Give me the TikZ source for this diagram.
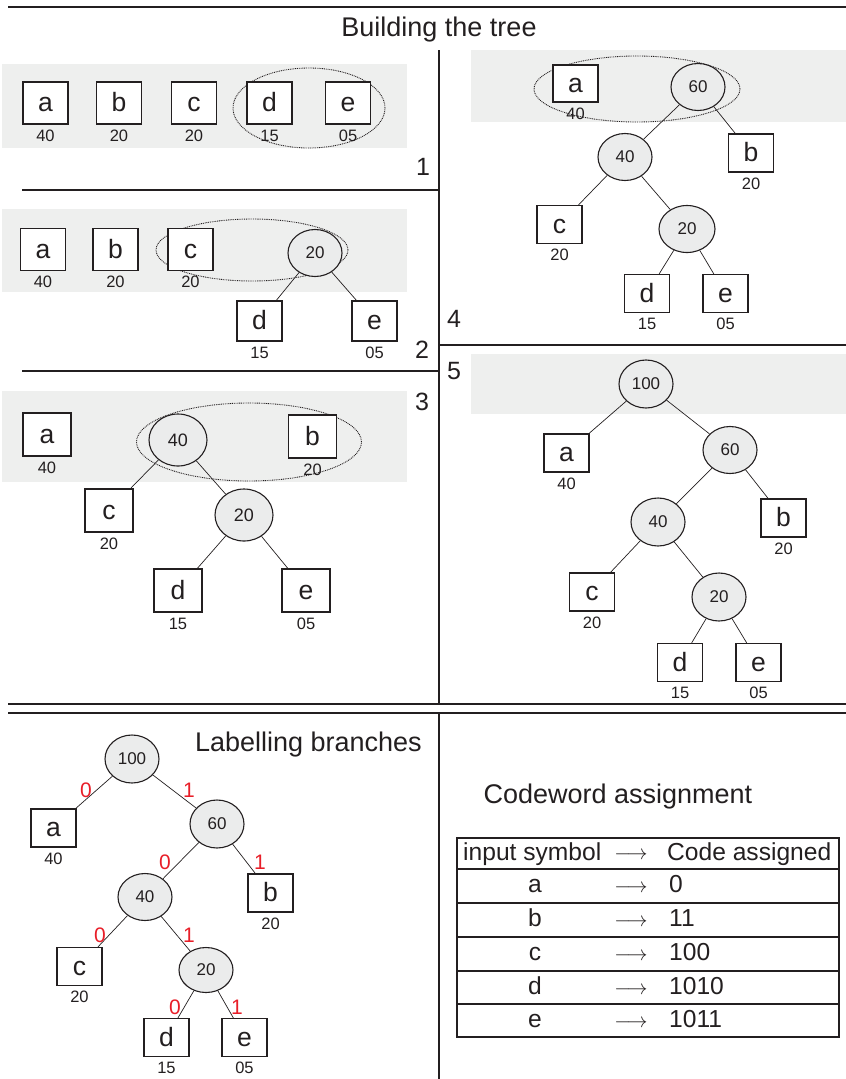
\documentclass[tikz,border=0pt]{standalone}
\usepackage{fontspec}
\setmainfont{Liberation Sans}
\usetikzlibrary{shapes.geometric}
\definecolor{bggray}{RGB}{238,239,238}
\definecolor{ngray}{RGB}{235,236,236}
\definecolor{lred}{RGB}{232,30,40}
\definecolor{ink}{RGB}{35,31,32}
\newcommand\fs[1]{\fontsize{#1}{#1}\selectfont}
\newcommand\lf[6]{%
  \node[#6] (#1) at (#2,#3) {#4};
  \node[wt] (#1w) at ([yshift=-11pt]#1.south) {#5};}
\begin{document}
\begin{tikzpicture}[x=1pt,y=-1pt,
  every node/.style={text=ink},
  frame/.style={draw=ink,line width=1.4pt},
  leaf/.style={draw=ink,line width=1.2pt,fill=white,minimum width=45pt,minimum height=42pt,inner sep=0pt,font=\fs{26.5},text height=17pt,text depth=0pt},
  sleaf/.style={leaf,minimum height=38pt},
  inode/.style={ellipse,draw=ink,line width=1.1pt,fill=ngray,minimum width=54pt,minimum height=47pt,inner sep=0pt,font=\fs{17}},
  binode/.style={inode,minimum width=58pt,minimum height=52pt,font=\fs{18}},
  wt/.style={inner sep=0pt,font=\fs{16.5}},
  grp/.style={ellipse,draw=ink,line width=0.9pt,dash pattern=on 0.9pt off 0.9pt,inner sep=0pt},
  br/.style={draw=ink,line width=0.7pt},
  ttl/.style={inner sep=0pt,font=\fs{27}},
  pnum/.style={inner sep=0pt,font=\fs{25}},
  bit/.style={inner sep=0pt,text=lred,font=\fs{21}},
  tt/.style={inner sep=0pt,font=\fs{24.6},text height=17.5pt,text depth=4pt},
  arr/.style={inner sep=0pt,font=\fs{21.5}},
  tline/.style={draw=ink,line width=1.1pt}]
\useasboundingbox (0,0) rectangle (846,1079);
% backgrounds
\fill[bggray] (2,64) rectangle (407,148);
\fill[bggray] (2,209) rectangle (407,292);
\fill[bggray] (2,391) rectangle (407,482);
\fill[bggray] (471,50) rectangle (846,122);
\fill[bggray] (471,354) rectangle (846,414);
% frame lines
\draw[frame] (8,7) -- (846,7);
\draw[frame] (439,50) -- (439,704);
\draw[frame] (22,190) -- (439,190);
\draw[frame] (22,371) -- (439,371);
\draw[frame] (439,345) -- (846,345);
\draw[frame] (8,704) -- (846,704);
\draw[frame] (8,713) -- (846,713);
\draw[frame] (439,713) -- (439,1079);
% titles
\node[ttl] (t1) at (439,30) {Building the tree};
\node[pnum] (n1) at (423,167) {1};
\node[pnum] (n2) at (422,350) {2};
\node[pnum] (n3) at (422,402) {3};
\node[pnum] (n4) at (454,319) {4};
\node[pnum] (n5) at (454,371) {5};
% ---- panel 1
\node[grp,minimum width=152pt,minimum height=80pt] (g1) at (309,108) {};
\lf{pa}{45.5}{103}{a}{40}{leaf}
\lf{pb}{119}{103}{b}{20}{leaf}
\lf{pc}{194}{103}{c}{20}{leaf}
\lf{pd}{269.5}{103}{d}{15}{leaf}
\lf{pe}{348}{103}{e}{05}{leaf}
% ---- panel 2
\node[grp,minimum width=192pt,minimum height=62pt] (g2) at (252,250) {};
\lf{qa}{43}{249.5}{a}{40}{leaf}
\lf{qb}{115.5}{249.5}{b}{20}{leaf}
\lf{qc}{190.5}{249.5}{c}{20}{leaf}
\node[inode] (q20) at (315,253) {20};
\lf{qd}{259.5}{321}{d}{15}{leaf,minimum height=40pt}
\lf{qe}{374.5}{321}{e}{05}{leaf,minimum height=40pt}
\draw[br] (q20) -- (qd);
\draw[br] (q20) -- (qe);
% ---- panel 3
\node[grp,minimum width=225pt,minimum height=78pt] (g3) at (249,442) {};
\lf{ra}{47}{434.5}{a}{40}{leaf,minimum width=48pt,minimum height=43pt}
\node[binode] (r40) at (178,440) {40};
\lf{rb}{312.5}{436.5}{b}{20}{leaf,minimum width=48pt,minimum height=43pt}
\lf{rc}{109}{510.5}{c}{20}{leaf,minimum width=48pt,minimum height=43pt}
\node[binode] (r20) at (244,515) {20};
\lf{rd}{178}{590.5}{d}{15}{leaf,minimum width=48pt,minimum height=43pt}
\lf{re}{306}{590.5}{e}{05}{leaf,minimum width=48pt,minimum height=43pt}
\draw[br] (r40) -- (rc);
\draw[br] (r40) -- (r20);
\draw[br] (r20) -- (rd);
\draw[br] (r20) -- (re);
% ---- panel 4
\node[grp,minimum width=206pt,minimum height=66pt] (g4) at (637,89) {};
\lf{sa}{575.5}{83.5}{a}{40}{sleaf,minimum height=37pt}
\node[inode] (s60) at (698,87) {60};
\lf{sb}{751}{153}{b}{20}{sleaf}
\node[inode] (s40) at (625,157) {40};
\lf{sc}{559.5}{224.5}{c}{20}{sleaf}
\node[inode,minimum width=56pt] (s20) at (687,229) {20};
\lf{sd}{647}{293.5}{d}{15}{sleaf}
\lf{se}{725.5}{293.5}{e}{05}{sleaf}
\draw[br] (s60) -- (s40);
\draw[br] (s60) -- (sb);
\draw[br] (s40) -- (sc);
\draw[br] (s40) -- (s20);
\draw[br] (s20) -- (sd);
\draw[br] (s20) -- (se);
% ---- panel 5
\node[inode,minimum height=48pt] (u100) at (646,384) {100};
\lf{ua}{566.5}{453}{a}{40}{sleaf}
\node[inode] (u60) at (730,450) {60};
\lf{ub}{783.5}{518}{b}{20}{sleaf}
\node[inode,minimum height=48pt] (u40) at (658,522) {40};
\lf{uc}{592}{592}{c}{20}{sleaf}
\node[inode,minimum height=48pt] (u20) at (719,597) {20};
\lf{ud}{680}{662.5}{d}{15}{sleaf}
\lf{ue}{758.5}{662.5}{e}{05}{sleaf}
\draw[br] (u100) -- (ua);
\draw[br] (u100) -- (u60);
\draw[br] (u60) -- (u40);
\draw[br] (u60) -- (ub);
\draw[br] (u40) -- (uc);
\draw[br] (u40) -- (u20);
\draw[br] (u20) -- (ud);
\draw[br] (u20) -- (ue);
% ---- labelling branches
\node[ttl,anchor=east] (t2) at (422,745) {Labelling branches};
\node[inode,minimum height=48pt] (v100) at (132,759) {100};
\lf{va}{53.5}{828}{a}{40}{sleaf}
\node[inode,minimum height=48pt] (v60) at (217,824) {60};
\lf{vb}{270.5}{893}{b}{20}{sleaf}
\node[inode] (v40) at (145,897) {40};
\lf{vc}{79.5}{966.5}{c}{20}{sleaf}
\node[inode,minimum height=45pt] (v20) at (206,970) {20};
\lf{vd}{166.5}{1037.5}{d}{15}{sleaf}
\lf{ve}{244.5}{1037.5}{e}{05}{sleaf}
\draw[br] (v100) -- (va);
\draw[br] (v100) -- (v60);
\draw[br] (v60) -- (v40);
\draw[br] (v60) -- (vb);
\draw[br] (v40) -- (vc);
\draw[br] (v40) -- (v20);
\draw[br] (v20) -- (vd);
\draw[br] (v20) -- (ve);
\node[bit] (b1) at (86,790) {0};
\node[bit] (b2) at (189,790) {1};
\node[bit] (b3) at (165,862) {0};
\node[bit] (b4) at (260,862) {1};
\node[bit] (b5) at (100,935) {0};
\node[bit] (b6) at (189,935) {1};
\node[bit] (b7) at (175,1007) {0};
\node[bit] (b8) at (237,1007) {1};
% ---- codeword table
\node[ttl] (t3) at (618,797) {Codeword assignment};
\draw[tline] (457,838) rectangle (839,1037);
\foreach \yy in {869,903,937,971,1004} \draw[tline] (457,\yy) -- (839,\yy);
\node[tt,anchor=west] (h1) at (463,853.5) {input symbol};
\node[arr] (h2) at (631,856) {$\longrightarrow$};
\node[tt,anchor=west] (h3) at (667,853.5) {Code assigned};
\node[tt] (ka) at (535,886) {a};
\node[arr] (xa) at (631,889) {$\longrightarrow$};
\node[tt,anchor=west] (ca) at (669,886) {0};
\node[tt] (kb) at (535,920) {b};
\node[arr] (xb) at (631,923) {$\longrightarrow$};
\node[tt,anchor=west] (cb) at (669,920) {11};
\node[tt] (kc) at (535,954) {c};
\node[arr] (xc) at (631,957) {$\longrightarrow$};
\node[tt,anchor=west] (cc) at (669,954) {100};
\node[tt] (kd) at (535,987.5) {d};
\node[arr] (xd) at (631,990.5) {$\longrightarrow$};
\node[tt,anchor=west] (cd) at (669,987.5) {1010};
\node[tt] (ke) at (535,1020.5) {e};
\node[arr] (xe) at (631,1023.5) {$\longrightarrow$};
\node[tt,anchor=west] (ce) at (669,1020.5) {1011};
\end{tikzpicture}
\end{document}
